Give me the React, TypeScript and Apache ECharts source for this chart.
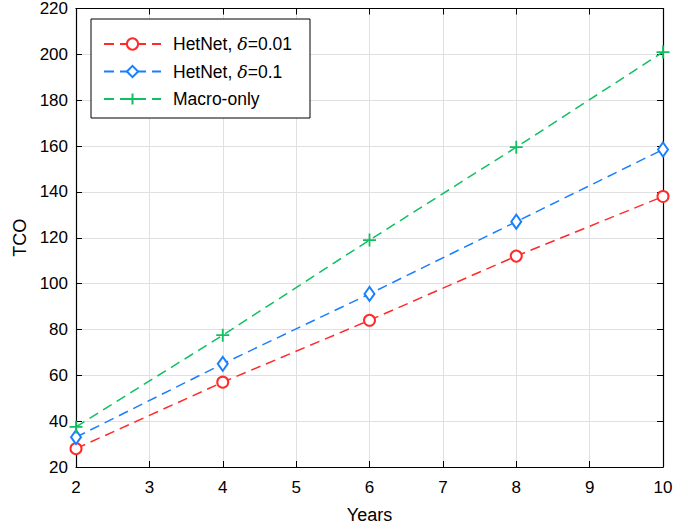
import React, { useEffect, useRef } from "react";
import * as echarts from "echarts";

const years = [2, 4, 6, 8, 10];
const hetnet001 = [28, 57, 84, 112, 138];
const hetnet01 = [33, 65, 95.5, 127, 158.5];
const macroOnly = [37.5, 77.5, 119, 159.5, 201];
const seriesNames = ["HetNet, δ=0.01", "HetNet, δ=0.1", "Macro-only"];
const colors = ["#ff2a2a", "#1a7fff", "#10c060"];

const FONT = "Liberation Sans, Arial, Helvetica, sans-serif";

export default function App() {
  const ref = useRef<HTMLDivElement>(null);
  useEffect(() => {
    const chart = echarts.init(ref.current!, null, { renderer: "svg" });
    const mk = (arr: number[]) => years.map((x, i) => [x, arr[i]]);
    const plus = "path://M0,7 L14,7 M7,0 L7,14";
    chart.setOption({
      animation: false,
      backgroundColor: "#fff",
      textStyle: { fontFamily: FONT },
      grid: { left: 76, right: 25, top: 8, bottom: 61 },
      legend: {
        left: 91,
        top: 19,
        orient: "vertical",
        backgroundColor: "#fff",
        borderColor: "#000",
        borderWidth: 1,
        borderRadius: 0,
        padding: [16, 18, 10, 12],
        itemWidth: 57,
        itemHeight: 14,
        itemGap: 9.5,
        textStyle: {
          fontSize: 17.5,
          color: "#000",
          fontFamily: FONT,
          rich: {
            s: { width: 7, fontSize: 17.5 },
            d: { fontSize: 17.5, fontStyle: "italic", fontFamily: "DejaVu Serif, serif", color: "#000" },
            t: { fontSize: 17.5, fontFamily: FONT, color: "#000" },
          },
        },
        formatter: (name: string) => {
          if (name.indexOf("δ") >= 0) {
            const parts = name.split("δ");
            return "{s| }{t|" + parts[0] + "}{d|δ}{t|" + parts[1] + "}";
          }
          return "{s| }{t|" + name + "}";
        },
        data: seriesNames,
      },
      xAxis: [
        {
          type: "value",
          min: 2,
          max: 10,
          interval: 1,
          name: "Years",
          nameLocation: "middle",
          nameGap: 39,
          nameTextStyle: { fontSize: 18, color: "#000", fontFamily: FONT },
          axisLine: { show: true, lineStyle: { color: "#000", width: 1.2 } },
          axisTick: { show: true, inside: true, length: 6, lineStyle: { color: "#000" } },
          axisLabel: { fontSize: 17, color: "#000", margin: 12, fontFamily: FONT },
          splitLine: { show: true, lineStyle: { color: "#e0e0e0", width: 1 } },
        },
        {
          type: "value",
          position: "top",
          min: 2,
          max: 10,
          interval: 1,
          axisLine: { show: true, lineStyle: { color: "#000", width: 1.2 } },
          axisTick: { show: true, inside: true, length: 6, lineStyle: { color: "#000" } },
          axisLabel: { show: false },
          splitLine: { show: false },
        },
      ],
      yAxis: [
        {
          type: "value",
          min: 20,
          max: 220,
          interval: 20,
          name: "TCO",
          nameLocation: "middle",
          nameGap: 46,
          nameRotate: 90,
          nameTextStyle: { fontSize: 18, color: "#000", fontFamily: FONT },
          axisLine: { show: true, lineStyle: { color: "#000", width: 1.2 } },
          axisTick: { show: true, inside: true, length: 6, lineStyle: { color: "#000" } },
          axisLabel: { fontSize: 17, color: "#000", margin: 8, fontFamily: FONT },
          splitLine: { show: true, lineStyle: { color: "#e0e0e0", width: 1 } },
        },
        {
          type: "value",
          position: "right",
          min: 20,
          max: 220,
          interval: 20,
          axisLine: { show: true, lineStyle: { color: "#000", width: 1.2 } },
          axisTick: { show: true, inside: true, length: 6, lineStyle: { color: "#000" } },
          axisLabel: { show: false },
          splitLine: { show: false },
        },
      ],
      series: [
        {
          name: seriesNames[0],
          type: "line",
          data: mk(hetnet001),
          symbol: "emptyCircle",
          symbolSize: 11,
          lineStyle: { color: colors[0], width: 1.5, type: [10, 6] },
          itemStyle: { color: colors[0], borderColor: colors[0], borderWidth: 1.5 },
          z: 3,
        },
        {
          name: seriesNames[1],
          type: "line",
          data: mk(hetnet01),
          symbol: "emptyDiamond",
          symbolSize: [10, 14],
          lineStyle: { color: colors[1], width: 1.5, type: [10, 6] },
          itemStyle: { color: colors[1], borderColor: colors[1], borderWidth: 1.5 },
          z: 3,
        },
        {
          name: seriesNames[2],
          type: "line",
          data: mk(macroOnly),
          symbol: plus,
          symbolSize: 13,
          lineStyle: { color: colors[2], width: 1.5, type: [10, 6] },
          itemStyle: { color: "none", borderColor: colors[2], borderWidth: 1.8 },
          z: 3,
        },
      ],
    });
    return () => chart.dispose();
  }, []);
  return <div ref={ref} style={{ width: 688, height: 529, position: "absolute", left: 0, top: 0 }} />;
}
